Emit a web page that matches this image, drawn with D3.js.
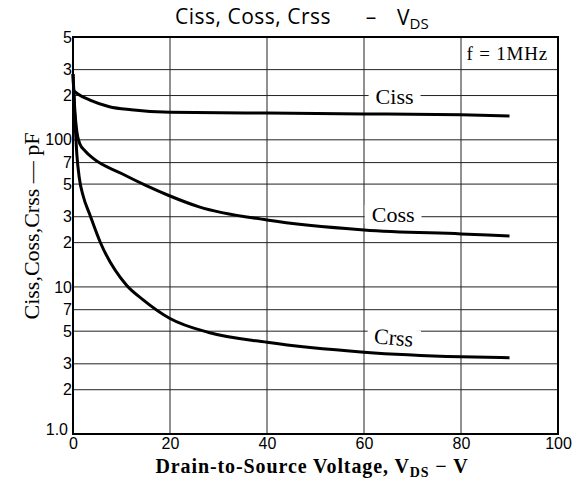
<!DOCTYPE html>
<html>
<head>
<meta charset="utf-8">
<script src="https://cdn.jsdelivr.net/npm/d3@7"></script>
<style>
  body { margin: 0; background: #fff; }
  svg { display: block; }
  .grid line { stroke: #222; stroke-width: 1; }
  .tick-lbl { font-family: "Liberation Sans", Arial, sans-serif; font-size: 16px; fill: #000; }
  .serif { font-family: "Liberation Serif", "DejaVu Serif", serif; fill: #000; }
</style>
</head>
<body>
<div id="chart"></div>
<script>
// Capacitance vs drain-source voltage (pF)
const cissV = [0, 1, 3.5, 7.5, 12, 20, 40, 60, 80, 90];
const cissC = [218, 205, 186, 168, 160, 154, 152, 150, 148, 145];
const cossV = [0, 0.4, 0.8, 1.4, 2.5, 4.1, 10, 15, 20, 26, 40, 60, 80, 90];
const cossC = [280, 155, 113, 94, 84, 75, 59, 49, 41.5, 35, 28.5, 24.4, 22.9, 22.2];
const crssV = [0, 0.4, 0.8, 1.3, 2.1, 3.5, 5.6, 11, 14.4, 20, 28, 40, 60, 80, 90];
const crssC = [280, 136, 79, 55, 41.5, 30.8, 20.2, 10.3, 8.2, 6.1, 4.9, 4.2, 3.6, 3.35, 3.3];

const xTicks = [0, 20, 40, 60, 80, 100];
const yTicks = [1, 2, 3, 5, 7, 10, 20, 30, 50, 70, 100, 200, 300, 500];
const yLabels = ["1.0", "2", "3", "5", "7", "10", "2", "3", "5", "7", "100", "2", "3", "5"];

const W = 579, H = 484;
const margin = {top: 37, right: 21, bottom: 50, left: 73};
const width = W - margin.left - margin.right;
const height = H - margin.top - margin.bottom;

const svg = d3.select("#chart").append("svg")
    .attr("width", W)
    .attr("height", H)
    .attr("xml:space", "preserve");

const g = svg.append("g")
    .attr("transform", `translate(${margin.left}, ${margin.top})`);

const x = d3.scaleLinear().domain([0, 100]).range([0, width]);
const y = d3.scaleLog().domain([1, 500]).range([height, 0]);

// grid
const grid = g.append("g").attr("class", "grid");
grid.selectAll(".hl").data(yTicks).enter().append("line")
    .attr("x1", 0).attr("x2", width)
    .attr("y1", d => y(d)).attr("y2", d => y(d));
grid.selectAll(".vl").data(xTicks).enter().append("line")
    .attr("x1", d => x(d)).attr("x2", d => x(d))
    .attr("y1", 0).attr("y2", height);

// frame
g.append("rect")
    .attr("width", width).attr("height", height)
    .attr("fill", "none").attr("stroke", "#000").attr("stroke-width", 2);

// tick labels
const xAxis = d3.axisBottom(x).tickValues(xTicks).tickSize(0).tickPadding(4);
const xg = g.append("g").attr("transform", `translate(0, ${height})`).call(xAxis);
xg.select(".domain").remove();
xg.selectAll("text").attr("class", "tick-lbl").attr("font-size", null).attr("font-family", null);

const yAxis = d3.axisLeft(y).tickValues(yTicks).tickSize(0).tickPadding(1)
    .tickFormat((d, i) => yLabels[i]);
const yg = g.append("g").call(yAxis);
yg.select(".domain").remove();
yg.selectAll("text").attr("class", "tick-lbl").attr("font-size", null).attr("font-family", null);
yg.selectAll("text").filter(d => d === 1).attr("dy", "0.05em").attr("x", -5);

// curves
const line = d3.line()
    .x(d => x(d[0]))
    .y(d => y(d[1]))
    .curve(d3.curveMonotoneX);

const series = [
    {name: "Ciss", v: cissV, c: cissC, lx: 66.3, ly: 104, rot: 0},
    {name: "Coss", v: cossV, c: cossC, lx: 66, ly: 222, rot: 0},
    {name: "Crss", v: crssV, c: crssC, lx: 66, ly: 345, rot: 5}
];

series.forEach(s => {
    g.append("path")
        .datum(s.v.map((v, i) => [v, s.c[i]]))
        .attr("d", line)
        .attr("fill", "none")
        .attr("stroke", "#000")
        .attr("stroke-width", 3);
});

// curve labels with white backing
series.forEach(s => {
    const lg = svg.append("g")
        .attr("transform", `translate(${margin.left + x(s.lx)}, ${s.ly}) rotate(${s.rot})`);
    const t = lg.append("text")
        .attr("class", "serif")
        .attr("text-anchor", "middle")
        .attr("font-size", 22)
        .text(s.name);
    const b = t.node().getBBox();
    lg.insert("rect", () => t.node())
        .attr("x", b.x - 7).attr("y", b.y + 3)
        .attr("width", b.width + 14).attr("height", b.height - 6)
        .attr("fill", "#fff");
});

// f = 1MHz
svg.append("text")
    .attr("class", "serif")
    .attr("x", 548).attr("y", 60)
    .attr("text-anchor", "end")
    .attr("font-size", 19)
    .attr("letter-spacing", 0.8)
    .text("f = 1MHz");

// title
const tfont = "'Open Sans', 'Noto Sans', sans-serif";
svg.append("text")
    .attr("x", 175).attr("y", 24)
    .attr("font-family", tfont).attr("font-size", 21).attr("fill", "#000")
    .attr("letter-spacing", 0.5)
    .text("Ciss, Coss, Crss");
svg.append("text")
    .attr("x", 371).attr("y", 24)
    .attr("text-anchor", "middle")
    .attr("font-family", tfont).attr("font-size", 21).attr("fill", "#000")
    .text("\u2013");
const tv = svg.append("text")
    .attr("x", 397).attr("y", 25)
    .attr("font-family", tfont).attr("font-size", 21).attr("fill", "#000");
tv.append("tspan").text("V");
tv.append("tspan").attr("font-size", 15).attr("dy", 4).text("DS");

// x axis title
const xt = svg.append("text")
    .attr("class", "serif")
    .attr("x", 312).attr("y", 473)
    .attr("text-anchor", "middle")
    .attr("font-size", 20)
    .attr("letter-spacing", 0.9)
    .attr("font-weight", "bold");
xt.append("tspan").text("Drain-to-Source Voltage, V");
xt.append("tspan").attr("font-size", 14).attr("dy", 4).text("DS");
xt.append("tspan").attr("dy", -4).text(" \u2212 V");

// y axis title
svg.append("text")
    .attr("class", "serif")
    .attr("transform", "translate(39, 226) rotate(-90)")
    .attr("text-anchor", "middle")
    .attr("font-size", 22)
    .text("Ciss,Coss,Crss  \u2014  pF");
</script>
</body>
</html>
